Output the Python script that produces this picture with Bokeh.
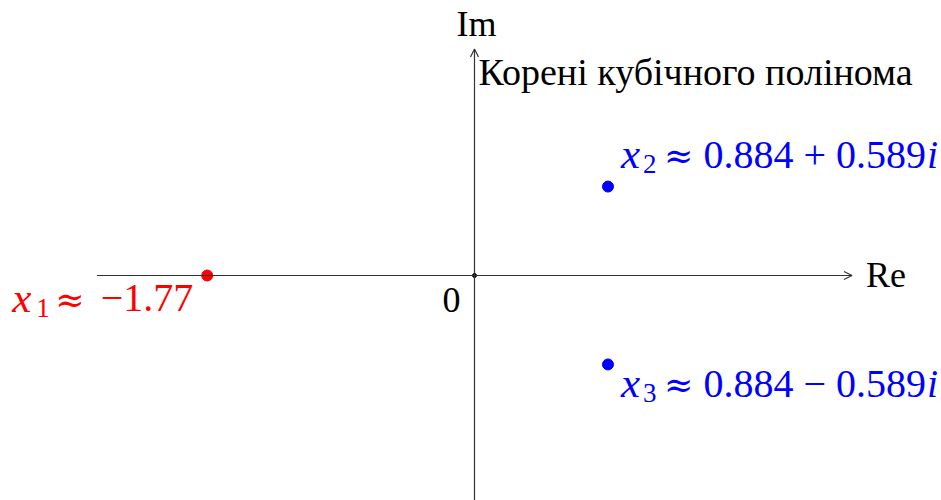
from bokeh.plotting import figure
from bokeh.models import Range1d, Arrow, OpenHead, Label
from bokeh.embed import file_html
from bokeh.resources import INLINE

# Roots of the cubic, as points in the complex plane
root_re = [-1.77, 0.884, 0.884]
root_im = [0.0, 0.589, -0.589]
root_names = ["1", "2", "3"]
root_colors = ["#ff0000", "#0000ff", "#0000ff"]

title_text = "Корені кубічного полінома"
axis_limit_re = 2.5
axis_limit_im = 1.5

FONT = "Liberation Serif"
SYM_FONT = "DejaVu Serif"
MATH = 40
SUB = 27
AXIS_TXT = 36
scale = 151.0  # pixels per unit on both axes

p = figure(
    width=941, height=500, min_border=0,
    x_range=Range1d(-474 / scale, 467 / scale),
    y_range=Range1d(-225 / scale, 275 / scale),
    x_axis_location=None, y_axis_location=None,
    output_backend="svg", toolbar_location=None,
)
p.grid.visible = False
p.outline_line_color = None
p.background_fill_color = "white"
p.border_fill_color = "white"


def put(x, y, text, dx, dy, size, color="black", style="normal",
        align="left", font=FONT):
    # dy is the baseline offset; lift by the font's descent share
    p.add_layout(Label(
        x=x, y=y, x_offset=dx, y_offset=dy + 0.38 * size, text=text,
        text_font=font, text_font_size=f"{size}px", text_color=color,
        text_font_style=style, text_align=align, text_baseline="alphabetic",
    ))


# Axes with arrow tips
axis_color = "#333333"
p.add_layout(Arrow(
    x_start=-axis_limit_re, y_start=0, x_end=axis_limit_re, y_end=0,
    line_color=axis_color, line_width=1.2,
    end=OpenHead(size=8, line_color=axis_color, line_width=1.2),
))
p.add_layout(Arrow(
    x_start=0, y_start=-axis_limit_im, x_end=0, y_end=axis_limit_im,
    line_color=axis_color, line_width=1.2,
    end=OpenHead(size=8, line_color=axis_color, line_width=1.2),
))
p.scatter([0], [0], size=4, color="black")

put(0, axis_limit_im, "Im", 2, 11, AXIS_TXT, align="center")
put(axis_limit_re, 0, "Re", 14, -13, AXIS_TXT)
put(0, 0, "0", -14, -38, AXIS_TXT, align="right")
put(0, axis_limit_im, title_text, 4, -37, 38)

# Root markers
p.scatter(root_re, root_im, size=11, color=root_colors)


def fmt(v, digits):
    s = f"{abs(v):.{digits}f}"
    return ("\u2212" + s) if v < 0 else s


# x1 (real root): label below-left of the point
re, im, c = root_re[0], root_im[0], root_colors[0]
put(re, im, "x", -195, -38, MATH + 3, c, "italic")
put(re, im, root_names[0], -171, -43, SUB, c)
put(re, im, "\u2248", -152, -38, 35, c, font=SYM_FONT)
put(re, im, fmt(re, 2), -14, -38, MATH, c, align="right")

# x2, x3 (complex conjugate pair): labels to the right
for k, dy in ((1, 17), (2, -34)):
    re, im, c = root_re[k], root_im[k], root_colors[k]
    sign = "+" if im >= 0 else "\u2212"
    put(re, im, "x", 13, dy, MATH + 3, c, "italic")
    put(re, im, root_names[k], 35, dy - 5, SUB, c)
    put(re, im, "\u2248", 56, dy, 35, c, font=SYM_FONT)
    put(re, im, f"{fmt(re, 3)} {sign} {abs(im):.3f}", 318, dy, MATH, c, align="right")
    put(re, im, "i", 319, dy, MATH, c, "italic")

open("out.html", "w").write(file_html(p, INLINE))
